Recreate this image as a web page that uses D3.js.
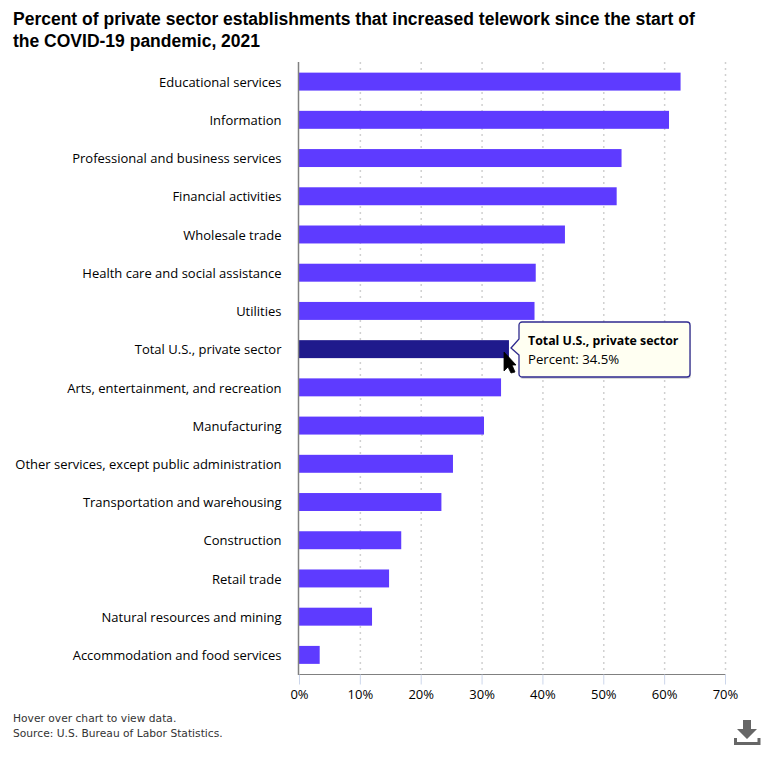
<!DOCTYPE html>
<html>
<head>
<meta charset="utf-8">
<script src="https://cdn.jsdelivr.net/npm/d3@7"></script>
<style>
  html, body { margin: 0; padding: 0; background: #fff; }
  svg { display: block; }
  .title { font: bold 17.5px "Liberation Sans", Arial, sans-serif; fill: #000; }
  .cat { font: 13px "Open Sans", sans-serif; fill: #000; }
  .note { font: 10.7px "DejaVu Sans", sans-serif; fill: #333; }
  .x-axis text { font: 13px "Open Sans", sans-serif; fill: #000; }
</style>
</head>
<body>
<div id="chart"></div>
<script>
var categories = [
  "Educational services", "Information", "Professional and business services",
  "Financial activities", "Wholesale trade", "Health care and social assistance",
  "Utilities", "Total U.S., private sector", "Arts, entertainment, and recreation",
  "Manufacturing", "Other services, except public administration",
  "Transportation and warehousing", "Construction", "Retail trade",
  "Natural resources and mining", "Accommodation and food services"
];
var percents = [62.7, 60.8, 53.0, 52.2, 43.7, 38.9, 38.7, 34.5, 33.2, 30.4, 25.3, 23.4, 16.8, 14.8, 12.0, 3.4];
var xTicks = [0, 10, 20, 30, 40, 50, 60, 70];
var titleLines = [
  "Percent of private sector establishments that increased telework since the start of",
  "the COVID-19 pandemic, 2021"
];
var notes = ["Hover over chart to view data.", "Source: U.S. Bureau of Labor Statistics."];
var highlighted = "Total U.S., private sector";

var svg = d3.select("#chart").append("svg").attr("width", 770).attr("height", 760);

var x = d3.scaleLinear().domain([0, 70]).range([299, 725]);
var y = d3.scaleBand().domain(categories).range([62.5, 674]).paddingInner(0.53).paddingOuter(0.265);

svg.selectAll(".title").data(titleLines).enter().append("text")
  .attr("class", "title")
  .attr("x", 13)
  .attr("y", function (d, i) { return 25 + i * 22; })
  .text(function (d) { return d; });

// dotted gridlines
svg.selectAll(".grid").data(xTicks.slice(1)).enter().append("line")
  .attr("x1", function (d) { return x(d) + 0.5; })
  .attr("x2", function (d) { return x(d) + 0.5; })
  .attr("y1", 62)
  .attr("y2", 674)
  .attr("stroke", "#d0d0d0")
  .attr("stroke-width", 1.5)
  .attr("stroke-dasharray", "2,4");

svg.selectAll(".bar").data(categories).enter().append("rect")
  .attr("x", x(0))
  .attr("y", function (d) { return y(d); })
  .attr("width", function (d, i) { return x(percents[i]) - x(0); })
  .attr("height", y.bandwidth())
  .attr("fill", function (d) { return d === highlighted ? "#1f1a8c" : "#5e3bff"; });

svg.selectAll(".cat").data(categories).enter().append("text")
  .attr("class", "cat")
  .attr("x", 281.5)
  .attr("y", function (d) { return y(d) + y.bandwidth() / 2 + 5.2; })
  .attr("text-anchor", "end")
  .text(function (d) { return d; });

// axes
var xAxis = svg.append("g")
  .attr("class", "x-axis")
  .attr("transform", "translate(0,674.5)")
  .call(d3.axisBottom(x).tickValues(xTicks).tickSize(10).tickPadding(5).tickFormat(function (d) { return d + "%"; }));
xAxis.select(".domain").attr("stroke", "#808080").attr("stroke-width", 1).attr("d", "M299,0H725.5");
xAxis.selectAll(".tick line").attr("stroke", "#ccd6eb");

svg.append("line")
  .attr("x1", x(0) - 0.5).attr("x2", x(0) - 0.5)
  .attr("y1", 62).attr("y2", 675)
  .attr("stroke", "#808080").attr("stroke-width", 1.5);

svg.selectAll(".note").data(notes).enter().append("text")
  .attr("class", "note")
  .attr("x", 13)
  .attr("y", function (d, i) { return 722 + i * 15; })
  .text(function (d) { return d; });

// tooltip for the hovered bar
var hoverIndex = categories.indexOf(highlighted);
var tip = svg.append("g").attr("transform", "translate(518,322)");
tip.append("path")
  .attr("d", "M4,0H169a3,3 0 0 1 3,3V52a3,3 0 0 1 -3,3H4a3,3 0 0 1 -3,-3V33L-7,26L1,17V3a3,3 0 0 1 3,-3Z")
  .attr("transform", "translate(1,2)")
  .attr("fill", "#000").attr("opacity", 0.15);
tip.append("path")
  .attr("d", "M4,0H169a3,3 0 0 1 3,3V52a3,3 0 0 1 -3,3H4a3,3 0 0 1 -3,-3V33L-7,26L1,17V3a3,3 0 0 1 3,-3Z")
  .attr("fill", "#fffff2").attr("stroke", "#2f2a8f").attr("stroke-width", 1.3);
tip.append("text").attr("x", 10).attr("y", 23)
  .style("font", "bold 12.35px 'Open Sans', sans-serif").attr("fill", "#000")
  .text(highlighted);
tip.append("text").attr("x", 10).attr("y", 42)
  .style("font", "13.2px 'Open Sans', sans-serif").attr("fill", "#000")
  .text("Percent: " + percents[hoverIndex] + "%");

// mouse cursor
svg.append("path")
  .attr("transform", "translate(504,352)")
  .attr("d", "M0,0L12,13H8L11,20L7,21L4,15L0,19Z")
  .attr("fill", "#000").attr("stroke", "#000").attr("stroke-width", 0.8);

// download icon
var dl = svg.append("g").attr("transform", "translate(734,718)").attr("fill", "#666");
dl.append("path").attr("d", "M9,2H17V11H23L13,21L3,11H9Z");
dl.append("path").attr("d", "M0,20H3V24H23.5V20H26.5V27H0Z");
</script>
</body>
</html>
